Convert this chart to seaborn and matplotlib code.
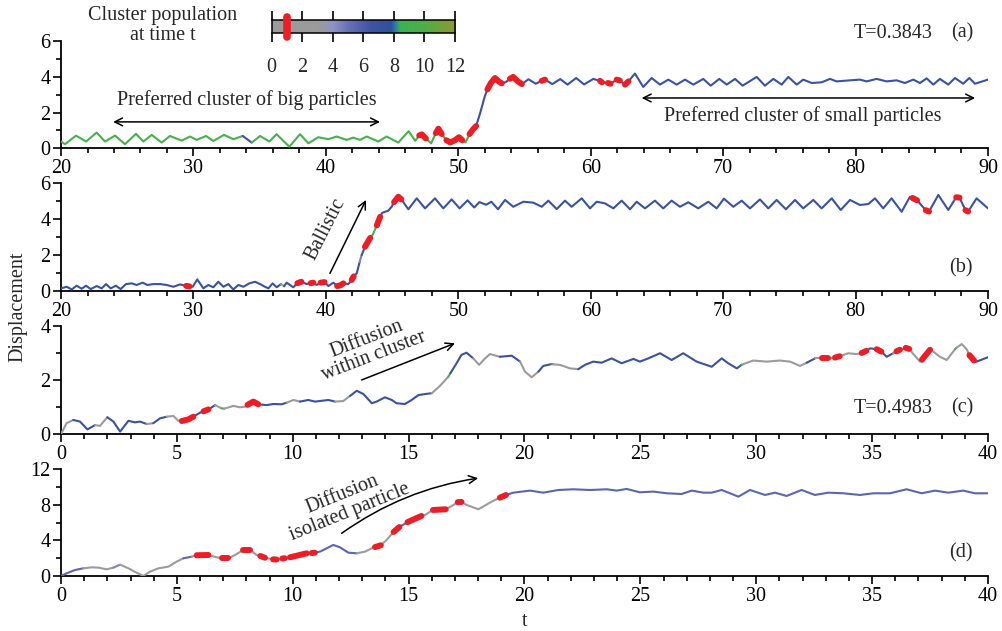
import numpy as np
import matplotlib
matplotlib.use("Agg")
import matplotlib.pyplot as plt
import seaborn as sns
from matplotlib.colors import LinearSegmentedColormap

sns.set_theme(style="ticks")
plt.rcParams["font.family"] = ["Liberation Serif", "DejaVu Serif"]

# population codes (cluster population at time t)
R, G, L, D, B, V = 1, 2.5, 4.5, 5.5, 7, 9.5

# ---------------- panel (a) ----------------
ta = [20.00, 20.30, 21.13, 21.89, 22.69, 23.32, 24.08, 24.83, 25.66, 26.22, 26.85, 27.60, 28.23, 29.11,
      29.74, 30.24, 30.95, 31.50, 32.31, 33.01, 33.72, 34.40, 35.03, 35.73, 36.28, 37.24, 38.05, 38.68,
      39.43, 40.19, 40.82, 41.57, 42.07, 42.58, 43.08, 43.96, 44.59, 45.47, 46.25, 46.75, 47.05, 47.25,
      47.55, 47.95, 48.30, 48.50, 48.75, 49.10, 49.40, 49.75, 50.05, 50.30, 50.55, 50.85, 51.10, 51.35,
      51.65, 52.00, 52.20, 52.45, 52.77, 53.05, 53.28, 53.60, 53.90, 54.15, 54.50, 54.80, 55.30, 55.85,
      56.30, 56.55, 57.10, 57.70, 58.25, 58.90, 59.50, 60.20, 60.70, 60.85, 61.30, 61.50, 61.96, 62.20,
      62.59, 62.85, 63.34, 63.97, 64.60, 65.23, 65.86, 66.49, 67.12, 67.75, 68.50, 69.06, 69.71, 70.27,
      70.90, 71.47, 72.53, 73.16, 73.79, 74.42, 74.92, 75.56, 76.05, 76.69, 77.44, 78.07, 78.57, 79.58,
      80.33, 80.84, 81.59, 82.35, 83.10, 83.73, 84.36, 84.86, 85.37, 85.87, 86.37, 87.00, 87.51, 88.13,
      88.59, 89.02, 90.00]
ya = [0.38, 0.23, 0.71, 0.38, 0.88, 0.38, 0.71, 0.23, 0.81, 0.38, 0.75, 0.32, 0.69, 0.43,
      0.66, 0.47, 0.69, 0.41, 0.75, 0.51, 0.69, 0.32, 0.69, 0.38, 0.79, 0.09, 0.79, 0.28,
      0.62, 0.51, 0.66, 0.47, 0.60, 0.47, 0.66, 0.38, 0.66, 0.32, 0.96, 0.42, 0.72, 0.78,
      0.55, 0.28, 0.85, 1.10, 0.80, 0.45, 0.33, 0.45, 0.62, 0.45, 0.33, 0.80, 1.05, 1.25,
      1.97, 2.91, 3.30, 3.65, 3.94, 3.75, 3.64, 3.72, 3.90, 4.00, 3.75, 3.60, 3.87, 3.62,
      3.78, 3.85, 3.60, 3.88, 3.57, 3.94, 3.58, 3.89, 3.78, 3.70, 3.66, 3.62, 3.85, 3.80,
      3.57, 3.75, 4.19, 3.44, 3.94, 3.57, 3.85, 3.57, 3.85, 3.57, 3.89, 3.51, 3.89, 3.57,
      3.89, 3.51, 4.00, 3.51, 3.89, 3.57, 4.00, 3.57, 3.85, 3.66, 3.70, 3.89, 3.75, 3.81,
      3.85, 3.75, 3.89, 3.75, 3.81, 3.66, 3.85, 3.66, 3.92, 3.57, 3.89, 3.57, 3.94, 3.62,
      3.94, 3.62, 3.85]
pa = [V, V, V, V, V, V, V, V, V, V, V, V, V, V,
      V, V, V, V, V, V, B, V, V, V, V, V, V, V,
      V, V, V, V, V, V, V, V, V, V, V, V, R, R,
      V, V, R, R, V, R, R, R, R, V, V, R, R, B,
      B, B, R, R, R, R, B, B, R, R, R, B, B, B,
      R, B, B, B, B, B, B, B, R, B, R, B, R, B,
      R, B, B, B, B, B, B, B, B, B, B, B, B, B,
      B, B, B, B, B, B, B, B, B, B, B, B, B, B,
      B, B, B, B, B, B, B, B, B, B, B, B, B, B,
      B, B, B]

# ---------------- panel (b) ----------------
tb = [20.00, 20.43, 20.81, 21.18, 21.56, 21.89, 22.24, 22.69, 23.07, 23.40, 23.75, 24.15, 24.50, 24.91,
      25.34, 25.71, 26.17, 26.52, 26.97, 27.48, 27.98, 28.48, 28.99, 29.45, 29.70, 29.94, 30.29, 30.75,
      31.12, 31.50, 31.88, 32.26, 32.64, 33.01, 33.39, 33.77, 34.22, 34.65, 35.03, 35.40, 35.66, 35.98,
      36.29, 36.61, 36.85, 37.04, 37.54, 37.85, 38.15, 38.55, 38.85, 39.05, 39.31, 39.60, 39.90, 40.19,
      40.56, 40.85, 41.10, 41.32, 41.70, 41.95, 42.10, 42.33, 42.55, 42.70, 42.95, 43.35, 43.55, 43.85,
      44.10, 44.25, 44.71, 44.97, 45.15, 45.47, 45.70, 46.23, 46.86, 47.49, 48.24, 48.87, 49.50, 50.10,
      50.70, 51.20, 51.60, 52.10, 52.50, 53.00, 53.53, 54.15, 54.91, 55.66, 56.30, 56.80, 57.43, 58.06,
      58.56, 59.32, 59.95, 60.45, 61.08, 61.71, 62.34, 62.97, 63.47, 64.10, 64.85, 65.48, 66.11, 66.74,
      67.37, 68.12, 68.88, 69.51, 70.06, 70.77, 71.40, 72.03, 72.78, 73.41, 74.04, 74.74, 75.43, 76.05,
      76.81, 77.44, 78.20, 78.88, 79.58, 80.33, 80.96, 81.47, 82.09, 82.72, 83.48, 84.11, 84.30, 84.65,
      85.30, 85.55, 86.25, 87.00, 87.60, 87.85, 88.30, 88.50, 89.14, 90.00]
yb = [0.13, 0.22, 0.07, 0.28, 0.11, 0.28, 0.09, 0.26, 0.13, 0.37, 0.13, 0.28, 0.09, 0.37,
      0.41, 0.32, 0.45, 0.32, 0.37, 0.37, 0.32, 0.22, 0.35, 0.27, 0.24, 0.22, 0.63, 0.13,
      0.32, 0.19, 0.50, 0.22, 0.37, 0.07, 0.32, 0.22, 0.41, 0.50, 0.37, 0.22, 0.13, 0.41,
      0.19, 0.37, 0.25, 0.45, 0.19, 0.42, 0.50, 0.37, 0.42, 0.45, 0.32, 0.45, 0.48, 0.26,
      0.45, 0.26, 0.30, 0.41, 0.37, 0.60, 0.80, 0.97, 1.60, 1.99, 2.45, 2.95, 3.15, 3.65,
      4.13, 4.35, 4.47, 4.69, 4.95, 5.25, 5.10, 4.55, 5.16, 4.60, 5.16, 4.60, 5.10, 4.60,
      5.05, 4.65, 4.95, 4.80, 4.97, 4.55, 5.07, 4.69, 4.97, 4.92, 4.69, 5.03, 4.56, 5.03,
      4.69, 5.16, 4.60, 4.97, 4.88, 4.60, 5.03, 4.55, 4.97, 4.60, 5.03, 4.60, 5.03, 4.69,
      4.94, 4.60, 4.97, 4.60, 5.14, 4.69, 5.03, 4.60, 5.10, 4.60, 5.07, 4.55, 5.07, 4.60,
      5.07, 4.60, 5.16, 4.51, 5.07, 4.79, 4.84, 5.16, 4.60, 5.16, 4.41, 5.25, 5.18, 5.05,
      4.50, 4.42, 5.35, 4.51, 5.22, 5.20, 4.50, 4.42, 5.16, 4.60]
pb = [B] * len(tb)
for _i, _t in enumerate(tb):
    if _t in (29.45, 37.85, 38.85, 39.60, 40.85, 41.10, 41.95, 42.95, 43.85, 45.15, 45.47,
              84.30, 85.30, 87.60, 88.30):
        pb[_i] = R
    elif _t == 36.61:
        pb[_i] = G
    elif _t == 42.55:
        pb[_i] = L
    elif _t in (43.35, 43.55):
        pb[_i] = V

# ---------------- panel (c) ----------------
tc = [0.00, 0.24, 0.53, 0.82, 1.14, 1.47, 1.68, 2.00, 2.26, 2.55, 2.91, 3.19, 3.41, 3.70, 3.98, 4.27,
      4.56, 4.85, 5.06, 5.21, 5.49, 5.71, 6.00, 6.15, 6.36, 6.65, 6.93, 7.05, 7.44, 7.72, 7.94, 8.05,
      8.30, 8.51, 8.87, 9.16, 9.52, 9.74, 10.03, 10.31, 10.67, 10.96, 11.25, 11.54, 11.82, 12.18, 12.47,
      12.76, 13.05, 13.41, 13.62, 13.98, 14.27, 14.48, 14.84, 15.13, 15.42, 15.71, 16.00, 16.35, 16.71,
      16.80, 17.07, 17.28, 17.50, 17.79, 18.04, 18.30, 18.51, 18.94, 19.45, 19.81, 20.02, 20.31, 20.60,
      20.81, 21.17, 21.25, 21.53, 21.96, 22.32, 22.61, 22.97, 23.33, 23.76, 24.19, 24.70, 24.98, 25.34,
      25.85, 26.35, 26.85, 27.43, 28.08, 28.51, 28.79, 29.16, 29.37, 29.45, 29.87, 30.45, 31.02, 31.46,
      31.89, 32.18, 32.54, 32.85, 33.10, 33.40, 33.60, 33.97, 34.33, 34.55, 34.75, 34.91, 35.20, 35.40,
      35.63, 35.91, 36.05, 36.20, 36.45, 36.60, 36.78, 37.07, 37.15, 37.50, 37.64, 37.93, 38.22, 38.58,
      38.65, 38.87, 39.08, 39.20, 39.40, 39.51, 39.99]
yc = [0.00, 0.40, 0.52, 0.46, 0.17, 0.33, 0.30, 0.62, 0.46, 0.09, 0.49, 0.43, 0.46, 0.37, 0.40, 0.58,
      0.64, 0.67, 0.49, 0.48, 0.54, 0.64, 0.79, 0.84, 0.91, 1.07, 0.95, 0.94, 1.04, 0.99, 1.01, 1.08,
      1.20, 1.10, 1.07, 1.11, 1.10, 1.16, 1.26, 1.20, 1.26, 1.20, 1.23, 1.26, 1.20, 1.22, 1.41,
      1.60, 1.48, 1.14, 1.20, 1.36, 1.26, 1.14, 1.11, 1.26, 1.44, 1.48, 1.51, 1.78, 2.12,
      2.25, 2.62, 2.93, 3.01, 2.80, 2.56, 2.80, 2.96, 2.86, 2.90, 2.68, 2.31, 2.10, 2.31,
      2.52, 2.59, 2.58, 2.56, 2.43, 2.40, 2.56, 2.68, 2.64, 2.80, 2.62, 2.78, 2.68, 2.80,
      2.99, 2.74, 2.99, 2.68, 2.49, 2.80, 2.62, 2.43, 2.56, 2.59, 2.72, 2.68, 2.72, 2.68,
      2.52, 2.64, 2.80, 2.80, 2.80, 2.83, 2.88, 2.99, 2.96, 3.00, 3.08, 3.17, 3.14, 3.05,
      2.86, 2.99, 3.06, 3.12, 3.19, 3.15, 2.96, 2.68, 2.75, 3.12, 3.05, 2.86, 2.74, 3.14,
      3.20, 3.33, 3.14, 2.92, 2.72, 2.68, 2.84]
pc = [G, G, B, B, B, G, G, B, B, B, B, B, B, G, B, B,
      G, G, G, R, R, B, B, R, B, G, V, G, G, G, G, R,
      R, B, B, B, B, G, G, B, B, B, B, B, G, G, B,
      B, B, B, B, B, B, B, B, B, B, B, G, G, V,
      B, B, B, B, G, G, G, G, B, B, G, G, G, B,
      B, V, G, G, G, B, B, B, B, B, B, B, B, B,
      B, B, B, B, B, B, B, B, V, G, G, G, G, G,
      G, B, G, R, G, R, G, G, G, R, B, B, R, B,
      B, G, R, G, R, G, G, G, R, G, G, G, G, V,
      G, G, G, R, B, B, B]

# ---------------- panel (d) ----------------
td = [0.00, 0.24, 0.60, 0.96, 1.32, 1.61, 1.97, 2.26, 2.55, 2.91, 3.26, 3.55, 3.84, 4.20, 4.63, 4.99,
      5.28, 5.64, 5.85, 6.36, 6.72, 6.93, 7.22, 7.51, 7.87, 8.16, 8.44, 8.60, 8.80, 9.15, 9.30, 9.55,
      9.65, 9.88, 10.60, 10.82, 10.95, 11.18, 11.46, 11.75, 12.04, 12.40, 12.76, 13.12, 13.41, 13.55,
      13.80, 14.05, 14.35, 14.60, 14.95, 15.55, 15.71, 16.05, 16.60, 16.94, 17.12, 17.28, 17.50, 18.01,
      18.51, 18.87, 18.94, 19.20, 19.52, 20.24, 20.81, 21.46, 22.11, 22.83, 23.55, 23.98, 24.41, 24.98,
      25.56, 26.14, 26.78, 27.22, 27.72, 28.08, 28.51, 28.87, 29.23, 29.73, 30.38, 30.81, 31.31, 31.96,
      32.53, 33.11, 33.76, 34.48, 35.05, 35.77, 36.49, 37.14, 37.71, 38.29, 38.93, 39.44, 39.99]
yd = [0.00, 0.30, 0.67, 0.86, 0.97, 0.94, 0.75, 0.94, 1.27, 0.86, 0.37, 0.00, 0.49, 0.86, 1.05, 1.61,
      1.99, 2.17, 2.33, 2.36, 2.10, 1.99, 1.99, 2.36, 2.92, 2.92, 2.36, 2.25, 2.05, 1.87, 1.85, 1.97,
      2.00, 2.10, 2.55, 2.58, 2.62, 2.74, 3.11, 3.49, 3.22, 2.62, 2.55, 2.74, 3.11, 3.25,
      3.45, 4.05, 4.95, 5.50, 6.05, 6.75, 6.86, 7.42, 7.50, 7.99, 8.30, 8.33, 7.99, 7.50,
      8.25, 8.74, 8.81, 9.10, 9.37, 9.60, 9.37, 9.67, 9.75, 9.67, 9.75, 9.60, 9.79, 9.41,
      9.49, 9.30, 9.22, 9.60, 9.37, 9.37, 9.67, 9.30, 8.92, 9.67, 9.11, 9.37, 9.00, 9.67,
      9.11, 9.37, 9.30, 9.11, 9.30, 9.30, 9.75, 9.30, 9.60, 9.37, 9.60, 9.30, 9.30]
pd_ = [D, D, D, G, G, G, G, L, G, G, G, G, G, G, G, G,
       D, G, R, G, G, R, G, G, R, G, G, R, G, R, G, R,
       G, R, G, R, D, D, D, D, D, D, G, G, G, R,
       G, G, R, D, R, G, G, R, G, G, R, G, G, G,
       G, V, R] + [D] * 38

cbar_ticks = [0, 2, 4, 6, 8, 10, 12]
RED = "#ee1c24"
cmap = LinearSegmentedColormap.from_list("pop", [
    (0.0, "#9b9b9b"), (3.0 / 12, "#9b9b9b"), (4.0 / 12, "#8f91c6"), (5.0 / 12, "#6670b8"),
    (6.5 / 12, "#3f53a4"), (7.8 / 12, "#30509e"), (8.0 / 12, "#2a72b0"), (8.4 / 12, "#3cb450"),
    (10.0 / 12, "#4caf48"), (1.0, "#8e9a2e")])


def draw_traj(ax, t, y, p, lw=1.5, rlw=4.3):
    t = np.asarray(t, float); y = np.asarray(y, float); p = np.asarray(p, float)
    n = len(t)
    i = 0
    while i < n - 1:
        j = i
        while j + 1 < n - 1 and p[j + 1] == p[i]:
            j += 1
        xs, ys = t[i:j + 2], y[i:j + 2]
        if p[i] == R:
            sns.lineplot(x=xs, y=ys, ax=ax, color=RED, lw=rlw, sort=False, estimator=None,
                         solid_capstyle="round", solid_joinstyle="round", zorder=4)
        else:
            sns.lineplot(x=xs, y=ys, ax=ax, color=cmap(p[i] / 12.0), lw=lw, sort=False,
                         estimator=None, solid_capstyle="round", solid_joinstyle="round", zorder=3)
        i = j + 1


fs = 14.5


def style(ax, xlim, xmaj, xmin, ylim, ymaj, ymin):
    ax.set_xlim(*xlim); ax.set_ylim(*ylim)
    ax.set_xticks(xmaj); ax.set_xticks(xmin, minor=True)
    ax.set_yticks(ymaj); ax.set_yticks(ymin, minor=True)
    for s in ("top", "right"):
        ax.spines[s].set_visible(False)
    for s in ("left", "bottom"):
        ax.spines[s].set_linewidth(1.3); ax.spines[s].set_color("black")
    ax.tick_params(axis="both", which="major", direction="out", length=5.5, width=1.2,
                   labelsize=fs, color="black", labelcolor="black")
    ax.tick_params(axis="x", which="major", pad=2.5)
    ax.tick_params(axis="y", which="major", pad=2)
    ax.tick_params(axis="both", which="minor", direction="out", length=3.3, width=1.2, color="black")
    ax.set_xlabel(""); ax.set_ylabel("")
    ax.patch.set_alpha(0)
    ax.grid(False)


fig = plt.figure(figsize=(10.02, 6.31), dpi=100)
fig.patch.set_facecolor("white")
L0, W0 = 0.0609, 0.9251
axa = fig.add_axes([L0, 0.7650, W0, 0.1696])
axb = fig.add_axes([L0, 0.5393, W0, 0.1702])
axc = fig.add_axes([L0, 0.3122, W0, 0.1712])
axd = fig.add_axes([L0, 0.0872, W0, 0.1691])

draw_traj(axa, ta, ya, pa)
draw_traj(axb, tb, yb, pb)
draw_traj(axc, tc, yc, pc)
draw_traj(axd, td, yd, pd_)

style(axa, (20, 90), range(20, 91, 10), range(20, 91, 2), (0, 6), [0, 2, 4, 6], [1, 3, 5])
style(axb, (20, 90), range(20, 91, 10), range(20, 91, 2), (0, 6), [0, 2, 4, 6], [1, 3, 5])
style(axc, (0, 40), range(0, 41, 5), range(0, 41, 1), (0, 4), [0, 2, 4], [1, 3])
style(axd, (0, 40), range(0, 41, 5), range(0, 41, 1), (0, 12), [0, 4, 8, 12], [2, 6, 10])

aprops = dict(arrowstyle="<->", lw=1.1, color="black", shrinkA=0, shrinkB=0, mutation_scale=14)
axa.annotate("", xy=(44.09, 1.48), xytext=(23.93, 1.48), arrowprops=aprops, annotation_clip=False)
axa.text(34.0, 2.72, "Preferred cluster of big particles", fontsize=fs, ha="center", va="center")
axa.annotate("", xy=(89.03, 2.82), xytext=(63.85, 2.82), arrowprops=aprops, annotation_clip=False)
axa.text(76.0, 1.78, "Preferred cluster of small particles", fontsize=fs, ha="center", va="center")

sprops = dict(arrowstyle="->", lw=1.1, color="black", shrinkA=0, shrinkB=0, mutation_scale=14)
axb.annotate("", xy=(43.03, 5.07), xytext=(40.31, 0.97), arrowprops=sprops, annotation_clip=False)
axb.text(40.0, 3.44, "Ballistic", fontsize=fs, ha="center", va="center", rotation=63,
         rotation_mode="anchor")
axc.annotate("", xy=(17.0, 3.36), xytext=(12.97, 2.0), arrowprops=sprops, annotation_clip=False)
axc.text(13.33, 3.2, "Diffusion\nwithin cluster", fontsize=fs, ha="center", va="center",
         rotation=21, rotation_mode="anchor", linespacing=1.0)
cprops = dict(sprops, connectionstyle="arc3,rad=-0.12")
axd.annotate("", xy=(18.0, 11.0), xytext=(12.11, 4.8), arrowprops=cprops, annotation_clip=False)
axd.text(12.29, 8.18, "Diffusion\nisolated particle", fontsize=fs, ha="center", va="center",
         rotation=22, rotation_mode="anchor", linespacing=1.0)


def ftext(px, py, s, **kw):
    fig.text(px / 1002, 1 - py / 631, s, fontsize=fs, **kw)


ftext(933, 33, "T=0.3843", ha="right", va="center")
ftext(973, 33, "(a)", ha="right", va="center")
ftext(973, 267.5, "(b)", ha="right", va="center")
ftext(933, 408.3, "T=0.4983", ha="right", va="center")
ftext(973, 408.3, "(c)", ha="right", va="center")
ftext(973, 553.3, "(d)", ha="right", va="center")
ftext(17.5, 307, "Displacement", ha="center", va="center", rotation=90)
ftext(525, 621, "t", ha="center", va="center")
ftext(162.5, 25.5, "Cluster population\nat time t", ha="center", va="center", linespacing=1.12)

# colour bar
cax = fig.add_axes([271.7 / 1002, 1 - 33.3 / 631, 183.3 / 1002, 13.3 / 631])
grad = np.linspace(0, 12, 400).reshape(1, -1)
cax.imshow(grad, extent=[0, 12, 0, 1], aspect="auto", cmap=cmap, vmin=0, vmax=12, origin="lower")
cax.set_xlim(0, 12); cax.set_ylim(0, 1)
cax.set_xticks(cbar_ticks); cax.set_yticks([])
cax.tick_params(axis="x", top=True, bottom=True, direction="out", length=6.5, width=1.2,
                labelsize=fs, pad=11, color="black")
for s in cax.spines.values():
    s.set_linewidth(1.1); s.set_color("black"); s.set_visible(True)
cax.plot([1, 1], [-0.3, 1.25], color=RED, lw=5.5, solid_capstyle="round", clip_on=False, zorder=5)

fig.savefig("out.png", dpi=100)
